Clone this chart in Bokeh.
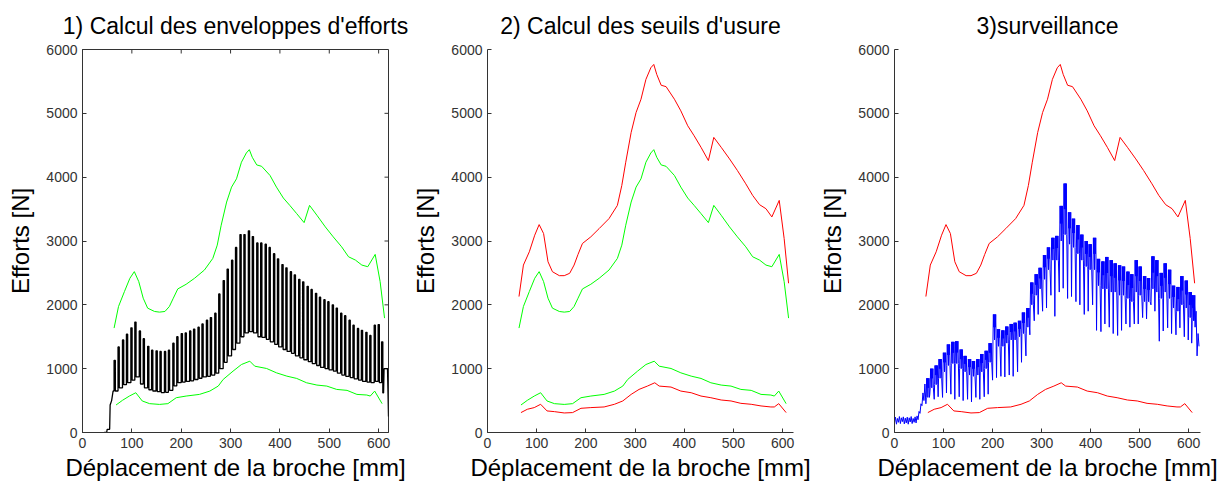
from bokeh.plotting import figure
from bokeh.layouts import row
from bokeh.models import Range1d, FixedTicker
from bokeh.embed import file_html
from bokeh.resources import INLINE

# ---------------- data ----------------
titles = ["1) Calcul des enveloppes d'efforts", "2) Calcul des seuils d'usure", "3)surveillance"]
x_label = "Déplacement de la broche [mm]"
y_label = "Efforts [N]"
x_ticks = [0, 100, 200, 300, 400, 500, 600]
y_ticks = [0, 1000, 2000, 3000, 4000, 5000, 6000]

# green envelope (upper / lower)
green_up_x = [64, 73, 85, 96, 105, 114, 123, 132, 146, 156, 167, 176, 184, 193, 210, 227, 247, 264, 273, 281,
              292, 302, 312, 322, 332, 338, 344, 353, 363, 380, 393, 407, 420, 434, 449, 460, 475, 492, 508, 525,
              539, 553, 566, 578, 593, 603, 612]
green_up_y = [1636, 1974, 2208, 2416, 2520, 2364, 2104, 1948, 1896, 1886, 1896, 1974, 2104, 2249, 2322, 2416, 2545,
              2727, 2935, 3247, 3610, 3844, 3974, 4234, 4379, 4431, 4312, 4192, 4170, 4026, 3844, 3673, 3558, 3429,
              3288, 3558, 3403, 3221, 3065, 2909, 2753, 2701, 2623, 2597, 2790, 2364, 1792]
green_lo_x = [68, 81, 95, 108, 121, 136, 156, 173, 190, 210, 237, 258, 275, 285, 305, 322, 339, 349, 373, 393,
              414, 434, 454, 475, 495, 515, 536, 556, 576, 583, 592, 607]
green_lo_y = [431, 504, 571, 623, 494, 452, 440, 452, 545, 571, 597, 649, 727, 831, 961, 1065, 1117, 1039, 1003,
              935, 883, 847, 779, 743, 727, 675, 660, 597, 587, 571, 649, 452]

# red thresholds (upper / lower)
red_up_x = green_up_x
red_up_y = [2130, 2623, 2831, 3091, 3257, 3117, 2675, 2519, 2457, 2457, 2494, 2623, 2790, 2961, 3065, 3195, 3351,
            3558, 3870, 4234, 4701, 5013, 5221, 5532, 5714, 5766, 5610, 5440, 5418, 5221, 5039, 4805, 4649, 4468,
            4260, 4623, 4468, 4286, 4104, 3896, 3714, 3569, 3506, 3377, 3636, 3039, 2338]
red_lo_x = [68, 81, 95, 108, 121, 136, 156, 173, 190, 210, 237, 258, 275, 292, 308, 325, 340, 349, 373, 393,
            414, 434, 454, 475, 495, 515, 536, 556, 576, 583, 592, 607]
red_lo_y = [312, 364, 390, 442, 338, 327, 306, 312, 379, 390, 400, 442, 494, 597, 675, 727, 779, 727, 712, 649,
            623, 571, 545, 509, 494, 457, 442, 416, 400, 400, 452, 312]

# tooth positions of the measured signals (mm)
tooth_x = [64, 72, 81, 89, 98, 106, 115, 123, 132, 140, 149, 157, 166, 174, 183, 191, 200, 208, 217, 225,
           234, 242, 251, 259, 268, 276, 285, 293, 302, 310, 319, 327, 336, 344, 353, 361, 370, 378, 387, 395,
           404, 412, 421, 429, 438, 446, 455, 463, 472, 480, 489, 497, 506, 514, 523, 531, 540, 548, 557, 565,
           574, 582, 591, 599, 606]

# panel 1: black signal (tooth tops / bottoms)
black_top = [1130, 1340, 1450, 1540, 1640, 1730, 1590, 1470, 1350, 1290, 1280, 1270, 1270, 1290, 1400, 1500,
             1550, 1560, 1590, 1620, 1650, 1700, 1760, 1800, 1870, 2170, 2380, 2560, 2700, 2900, 3100, 3100,
             3160, 3070, 2970, 2970, 2950, 2900, 2800, 2720, 2630, 2580, 2520, 2470, 2400, 2360, 2290, 2240,
             2180, 2120, 2080, 2050, 2000, 1950, 1870, 1830, 1760, 1680, 1630, 1600, 1570, 1520, 1680, 1690, 1420]
black_bot = [650, 700, 750, 780, 820, 870, 760, 700, 670, 650, 640, 625, 630, 660, 730, 780, 790, 800, 810,
             830, 850, 870, 880, 900, 930, 1000, 1100, 1200, 1300, 1400, 1500, 1560, 1580, 1560, 1500, 1490,
             1460, 1420, 1380, 1340, 1300, 1270, 1240, 1200, 1170, 1140, 1110, 1080, 1050, 1020, 1000, 980,
             960, 930, 900, 880, 860, 840, 820, 800, 790, 780, 800, 780, 620]
black_lead_x = [44, 49, 50, 55, 56, 59, 62]
black_lead_y = [0, 0, 50, 50, 430, 500, 650]
black_tail_x = [610, 611, 618, 620]
black_tail_y = [620, 1000, 1000, 250]

# panel 3: blue signal (band top, band bottom, dip per tooth)
blue_top = [850, 1000, 1050, 1150, 1250, 1380, 1420, 1430, 1300, 1200, 1150, 1120, 1150, 1230, 1280, 1400,
            1850, 1620, 1600, 1660, 1700, 1720, 1750, 1880, 1950, 2350, 2480, 2580, 2780, 2900, 3050, 3080,
            3550, 3900, 3450, 3350, 3250, 3100, 3000, 2950, 3050, 2720, 2680, 2750, 2700, 2650, 2620, 2600,
            2520, 2480, 2700, 2600, 2450, 2420, 2760, 2700, 2500, 2650, 2550, 2300, 2280, 2450, 2380, 2200, 2150]
blue_low = [550, 700, 750, 850, 950, 1050, 1080, 1080, 1000, 950, 900, 880, 900, 950, 1000, 1100,
            1450, 1350, 1350, 1400, 1450, 1450, 1500, 1550, 1650, 2000, 2150, 2250, 2400, 2550, 2700, 2700,
            3000, 3100, 2950, 2900, 2800, 2700, 2600, 2550, 2550, 2300, 2250, 2250, 2200, 2200, 2150, 2150,
            2100, 2050, 2200, 2150, 2050, 2050, 2250, 2200, 2100, 2200, 2100, 1950, 1900, 2000, 1950, 1800, 1750]
blue_dip = [450, 600, 520, 560, 550, 620, 600, 520, 560, 500, 520, 480, 550, 520, 560, 600,
            820, 860, 880, 870, 900, 880, 950, 1100, 1200, 1530, 1750, 1850, 1900, 1950, 2150, 1820,
            2200, 2260, 2100, 2130, 2050, 2000, 1850, 1900, 2000, 1600, 1580, 1700, 1650, 1550, 1520, 1600,
            1700, 1650, 1700, 1700, 1800, 1780, 2000, 1900, 1430, 1590, 1640, 1550, 1530, 1640, 1500, 1450, 1400]
blue_lead_x = [0, 2, 4, 6, 8, 10, 12, 14, 16, 18, 20, 22, 24, 26, 28, 30, 32, 34, 36, 38, 40, 42, 44, 46,
               48, 50, 52, 54, 56, 58, 60, 62]
blue_lead_y = [150, 240, 130, 220, 160, 250, 140, 230, 170, 245, 135, 225, 150, 240, 130, 230, 165, 250, 140,
               220, 160, 245, 150, 260, 200, 330, 300, 450, 420, 620, 500, 760]
blue_tail_x = [611, 613, 615, 617, 619, 621]
blue_tail_y = [2100, 1650, 1900, 1200, 1550, 1350]

# ---------------- build signal paths from the data ----------------
PULSE = 2.5
bx, by = list(black_lead_x), list(black_lead_y)
for i, x0 in enumerate(tooth_x):
    bx += [x0, x0, x0 + PULSE, x0 + PULSE]
    by += [black_bot[i - 1] if i > 0 else black_lead_y[-1], black_top[i], black_top[i], black_bot[i]]
bx += black_tail_x
by += black_tail_y

ux, uy = list(blue_lead_x), list(blue_lead_y)
for i, x0 in enumerate(tooth_x):
    mid = (blue_top[i] + blue_low[i]) / 2
    pattern = [blue_dip[i], blue_low[i], blue_top[i], mid, blue_top[i],
               blue_low[i], blue_top[i], mid, blue_top[i], blue_low[i]]
    for k, v in enumerate(pattern):
        ux.append(x0 + 0.8 * k)
        uy.append(v)
ux += blue_tail_x
uy += blue_tail_y

FONT = "Liberation Sans"
GREEN, RED, BLUE = "#00ff00", "#ff0000", "#0000ff"
AXC = "#333333"
FW, FH = 306, 383


def make_fig(title, x_end, bl, br, box):
    p = figure(frame_width=FW, frame_height=FH, x_range=Range1d(0, x_end), y_range=Range1d(0, 6000),
               output_backend="svg", toolbar_location=None, title=title,
               min_border_left=bl, min_border_right=br, min_border_top=48, min_border_bottom=48)
    p.title.text_font = FONT
    p.title.text_font_size = "23px"
    p.title.text_font_style = "normal"
    p.title.text_color = "#000000"
    p.title.align = "center"
    p.title.standoff = 21
    p.xgrid.visible = False
    p.ygrid.visible = False
    p.background_fill_color = "white"
    p.border_fill_color = "white"
    p.outline_line_color = AXC if box else None
    for a, t in [(p.xaxis[0], x_ticks), (p.yaxis[0], y_ticks)]:
        a.ticker = FixedTicker(ticks=t)
        a.major_label_text_font = FONT
        a.major_label_text_font_size = "14px"
        a.major_label_text_color = AXC
        a.major_tick_in = 4
        a.major_tick_out = 0
        a.minor_tick_line_color = None
        a.axis_line_color = AXC
        a.major_tick_line_color = AXC
        a.major_label_standoff = 5
        a.axis_label_text_font = FONT
        a.axis_label_text_font_size = "24px"
        a.axis_label_text_font_style = "normal"
        a.axis_label_text_color = "#000000"
    p.xaxis[0].axis_label = x_label
    p.yaxis[0].axis_label = y_label
    p.xaxis[0].axis_label_standoff = 3
    p.yaxis[0].axis_label_standoff = 9
    if box:
        # inward ticks on the top and right edges of the box
        tx = 4 * x_end / FW
        ty = 4 * 6000 / FH
        p.segment(x0=x_ticks, y0=[6000] * len(x_ticks), x1=x_ticks, y1=[6000 - ty] * len(x_ticks),
                  line_color=AXC, line_width=1)
        p.segment(x0=[x_end] * len(y_ticks), y0=y_ticks, x1=[x_end - tx] * len(y_ticks), y1=y_ticks,
                  line_color=AXC, line_width=1)
    return p


p1 = make_fig(titles[0], 620, 82, 21, True)
p1.line(green_up_x, green_up_y, color=GREEN, line_width=1)
p1.line(green_lo_x, green_lo_y, color=GREEN, line_width=1)
p1.line(bx, by, color="#000000", line_width=1.3)

p2 = make_fig(titles[1], 622, 74, 23, False)
p2.line(red_up_x, red_up_y, color=RED, line_width=1)
p2.line(green_up_x, green_up_y, color=GREEN, line_width=1)
p2.line(green_lo_x, green_lo_y, color=GREEN, line_width=1)
p2.line(red_lo_x, red_lo_y, color=RED, line_width=1)

p3 = make_fig(titles[2], 624, 74, 20, False)
p3.line(red_up_x, red_up_y, color=RED, line_width=1)
p3.line(red_lo_x, red_lo_y, color=RED, line_width=1)
p3.line(ux, uy, color=BLUE, line_width=1)

layout = row(p1, p2, p3, spacing=0)
open("out.html", "w").write(file_html(layout, INLINE, "Efforts"))
